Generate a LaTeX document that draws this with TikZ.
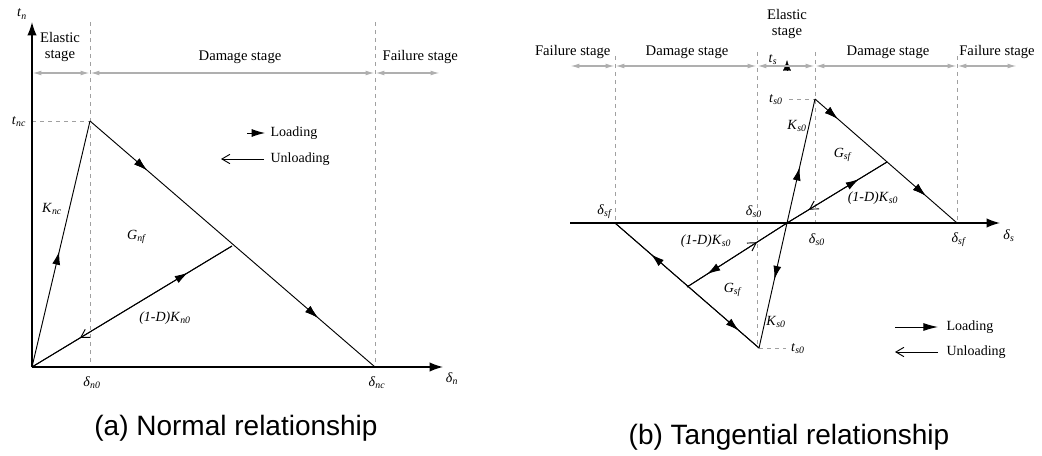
\documentclass[tikz,border=0pt]{standalone}
\usepackage{fontspec}
\setmainfont{Liberation Serif}
\newfontfamily\capfont{Liberation Sans}
\usetikzlibrary{arrows.meta,decorations.markings}
\newcommand{\ilab}[2]{\textit{#1}\textsubscript{\textit{#2}}}
\definecolor{stagegray}{RGB}{175,175,175}
\definecolor{guidegray}{RGB}{160,160,160}
\tikzset{
  axis/.style={line width=1.1pt,-{Latex[length=10pt,width=7pt]}},
  stagearr/.style={stagegray,line width=1pt,{Latex[length=7pt,width=3.5pt]}-{Latex[length=7pt,width=3.5pt]}},
  guide/.style={guidegray,dashed,line width=0.5pt},
  curve/.style={black,line width=0.7pt},
  lbl/.style={font=\fontsize{10.5}{12}\selectfont,inner sep=1pt},
  stagelbl/.style={font=\fontsize{11}{12.5}\selectfont,inner sep=1pt,align=center},
  caption/.style={font=\capfont\fontsize{21}{24}\selectfont},
  fa/.style={postaction={decorate},decoration={markings,mark=at position #1 with {\arrow{Latex[length=10pt,width=6pt]}}}},
  fb/.style={postaction={decorate},decoration={markings,mark=at position #1 with {\arrowreversed{Latex[length=10pt,width=6pt]}}}},
  oa/.style={postaction={decorate},decoration={markings,mark=at position #1 with {\arrow{Straight Barb[length=6pt,width=7pt]}}}},
  ob/.style={postaction={decorate},decoration={markings,mark=at position #1 with {\arrowreversed{Straight Barb[length=6pt,width=7pt]}}}},
}
\begin{document}
\begin{tikzpicture}[x=0.75pt,y=-0.75pt]
\useasboundingbox (0,0) rectangle (1042,456);
% ================= (a) =================
\coordinate (O) at (32,367);
\coordinate (P) at (90,121);
\coordinate (F) at (375,367);
\coordinate (U) at (232,246);
\coordinate (Ytop) at (32,22);
\coordinate (Xend) at (443,367);
\coordinate (Pa) at (32,121);
\coordinate (Va) at (90,22);
\coordinate (Vb) at (375,22);
\coordinate (Va0) at (90,367);
\coordinate (Vb0) at (375,367);
\draw[guide] (Va) -- (Va0);
\draw[guide] (Vb) -- (Vb0);
\draw[guide] (Pa) -- (P);
\draw[axis] (O) -- (Ytop);
\draw[axis] (O) -- (Xend);
% stages
\coordinate (sa0) at (32,73);
\coordinate (sa1) at (90,73);
\coordinate (sa2) at (375,73);
\coordinate (sa3) at (440,73);
\draw[stagearr] (sa0) -- (sa1);
\draw[stagearr] (sa1) -- (sa2);
\draw[stagearr] (sa2) -- (sa3);
\node[stagelbl] (ela) at (60,47) {Elastic\\stage};
\node[stagelbl] (dma) at (240,57) {Damage stage};
\node[stagelbl,anchor=west] (fla) at (381,57) {Failure stage};
% curves
\draw[curve,fa=0.47] (O) -- (P);
\draw[curve,fa=0.2,fa=0.8] (P) -- (F);
\draw[curve,fa=0.78] (O) -- (U);
\draw[curve,ob=0.24] (O) -- (U);
% labels
\node[lbl] (tn) at (22,14) {\ilab{t}{n}};
\node[lbl] (tnc) at (19,122) {\ilab{t}{nc}};
\node[lbl] (Knc) at (52,209) {\ilab{K}{nc}};
\node[lbl] (Gnf) at (137,237) {\ilab{G}{nf}};
\node[lbl] (KD) at (165,318) {\textit{(1-D)}\ilab{K}{n0}};
\node[lbl] (dn0) at (92,383) {\ilab{δ}{n0}};
\node[lbl] (dnc) at (377,383) {\ilab{δ}{nc}};
\node[lbl] (dn) at (452,379) {\ilab{δ}{n}};
% legend
\coordinate (la1) at (247,133);
\coordinate (la2) at (265,133);
\draw[curve,-{Latex[length=10pt,width=6pt]}] (la1) -- (la2);
\node[lbl,anchor=west] (lgl) at (269,133) {Loading};
\coordinate (lu1) at (264,159);
\coordinate (lu2) at (221,159);
\draw[curve,-{Straight Barb[length=6pt,width=7pt]}] (lu1) -- (lu2);
\node[lbl,anchor=west] (lgu) at (269,159) {Unloading};
\node[caption] (capa) at (236,428) {(a) Normal relationship};
% ================= (b) =================
\coordinate (O2) at (787,223);
\coordinate (A) at (815,99);
\coordinate (F2) at (957,223);
\coordinate (U2) at (887,162);
\coordinate (B) at (759,348);
\coordinate (F3) at (615,223);
\coordinate (U3) at (687,287);
\coordinate (Xs0) at (570,223);
\coordinate (Xs1) at (1000,223);
\coordinate (g1t) at (615,56);
\coordinate (g2t) at (757,52);
\coordinate (g3t) at (815,52);
\coordinate (g4t) at (957,56);
\coordinate (g2b) at (757,348);
\coordinate (g3b) at (815,223);
\coordinate (hA) at (789,99);
\coordinate (hB) at (786,348);
\draw[guide] (g1t) -- (F3);
\draw[guide] (g2t) -- (g2b);
\draw[guide] (g3t) -- (g3b);
\draw[guide] (g4t) -- (F2);
\draw[guide] (hA) -- (A);
\draw[guide] (B) -- (hB);
\draw[axis] (Xs0) -- (Xs1);
\coordinate (ys0) at (787,70);
\coordinate (ys1) at (787,60);
\draw[black,line width=0.3pt,-{Latex[length=8pt,width=6pt]}] (ys0) -- (ys1);
% stages
\coordinate (sb0) at (570,66);
\coordinate (sb1) at (615,66);
\coordinate (sb2) at (757,66);
\coordinate (sb3) at (815,66);
\coordinate (sb4) at (957,66);
\coordinate (sb5) at (1017,66);
\draw[stagearr] (sb0) -- (sb1);
\draw[stagearr] (sb1) -- (sb2);
\draw[stagearr] (sb2) -- (sb3);
\draw[stagearr] (sb3) -- (sb4);
\draw[stagearr] (sb4) -- (sb5);
\node[stagelbl,anchor=east] (flb1) at (612,52) {Failure stage};
\node[stagelbl] (dmb1) at (687,52) {Damage stage};
\node[stagelbl] (elb) at (787,24) {Elastic\\stage};
\node[stagelbl] (dmb2) at (888,52) {Damage stage};
\node[stagelbl] (flb2) at (997,52) {Failure stage};
% curves
\draw[curve,fa=0.45] (O2) -- (A);
\draw[curve,fa=0.16,fa=0.78] (A) -- (F2);
\draw[curve,fa=0.72] (O2) -- (U2);
\draw[curve,ob=0.22] (O2) -- (U2);
\draw[curve,fa=0.45] (O2) -- (B);
\draw[curve,fa=0.75] (B) -- (F3);
\draw[curve,fb=0.14] (B) -- (F3);
\draw[curve,fa=0.8] (O2) -- (U3);
\draw[curve,ob=0.3] (O2) -- (U3);
% labels
\node[lbl] (ts) at (773,60) {\ilab{t}{s}};
\node[lbl] (ts0) at (776,100) {\ilab{t}{s0}};
\node[lbl] (Ks0) at (797,126) {\ilab{K}{s0}};
\node[lbl] (Gsf) at (843,155) {\ilab{G}{sf}};
\node[lbl] (KDs) at (873,198) {\textit{(1-D)}\ilab{K}{s0}};
\node[lbl] (ds0l) at (754,212) {\ilab{δ}{s0}};
\node[lbl] (dsfl) at (605,212) {\ilab{δ}{sf}};
\node[lbl] (ds0r) at (817,240) {\ilab{δ}{s0}};
\node[lbl] (dsfr) at (959,240) {\ilab{δ}{sf}};
\node[lbl] (ds) at (1009,236) {\ilab{δ}{s}};
\node[lbl] (KDs2) at (706,241) {\textit{(1-D)}\ilab{K}{s0}};
\node[lbl] (Gsf2) at (733,290) {\ilab{G}{sf}};
\node[lbl] (Ks02) at (776,322) {\ilab{K}{s0}};
\node[lbl] (ts02) at (798,349) {\ilab{t}{s0}};
% legend
\coordinate (lb1) at (895,327);
\coordinate (lb2) at (938,327);
\draw[curve,-{Latex[length=11pt,width=6pt]}] (lb1) -- (lb2);
\node[lbl,anchor=west] (lglb) at (945,327) {Loading};
\coordinate (lc1) at (938,352);
\coordinate (lc2) at (895,352);
\draw[curve,-{Straight Barb[length=6pt,width=7pt]}] (lc1) -- (lc2);
\node[lbl,anchor=west] (lgub) at (945,352) {Unloading};
\node[caption] (capb) at (789,437) {(b) Tangential relationship};
\end{tikzpicture}
\end{document}
